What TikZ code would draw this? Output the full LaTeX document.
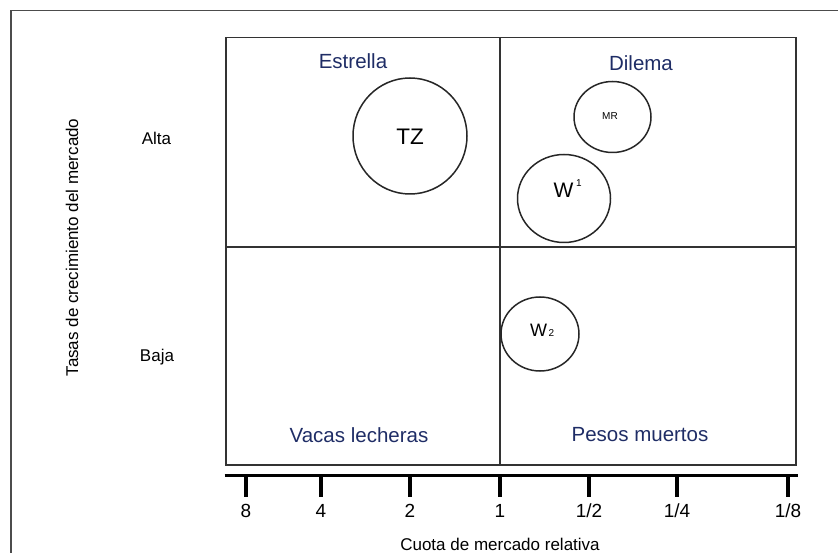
\documentclass[tikz,border=0pt]{standalone}
\usepackage{fontspec}
\setmainfont{Liberation Sans}
\usetikzlibrary{shapes.geometric}

\definecolor{labelblue}{RGB}{31,45,102}

\begin{document}
\begin{tikzpicture}[x=1pt,y=-1pt,
	frame line/.style={draw=black!70,line width=1.2pt},
	grid line/.style={draw=black!80,line width=1.8pt},
	product node/.style={ellipse,draw=black!85,line width=1.5pt,inner sep=0pt},
	product text/.style={anchor=base west,inner sep=0pt},
	quadrant label/.style={text=labelblue,anchor=base,font=\fontsize{20.5}{24}\selectfont},
	axis label/.style={anchor=base,font=\fontsize{17}{20}\selectfont},
	tick label/.style={anchor=base,font=\fontsize{19}{22}\selectfont}
]
	\useasboundingbox (0,0) rectangle (838,553);

	\def \xl {226};
	\def \xr {796};
	\def \yt {37.5};
	\def \yb {465};
	\def \xm {500};
	\def \ym {247};

	% outer frame, cut off by the page
	\draw[frame line] (838,10.5) -- (11,10.5) -- (11,553);

	% the four quadrants
	\draw[grid line] (\xl,\yt) rectangle (\xr,\yb);
	\draw[grid line] (\xm,\yt) -- (\xm,\yb);
	\draw[grid line] (\xl,\ym) -- (\xr,\ym);

	\node[quadrant label] (star) at (353,69) {Estrella};
	\node[quadrant label] (dilemma) at (641,71) {Dilema};
	\node[quadrant label] (cows) at (359,442) {Vacas lecheras};
	\node[quadrant label] (dogs) at (640,441) {Pesos muertos};

	% axis of relative share
	\draw[line width=3pt] (224.5,475.5) -- (798,475.5);
	\foreach \x/\v [count=\i] in {246/8, 321/4, 410/2, 500/1, 589/{1/2}, 677/{1/4}, 788/{1/8}} {
		\draw[line width=3.6pt] (\x,476) -- (\x,497);
		\node[tick label] (tick\i) at (\x,517) {\v};
	}
	\node[axis label] (share) at (500,550) {Cuota de mercado relativa};

	\node[axis label,rotate=90] (growth) at (78,247.5) {Tasas de crecimiento del mercado};
	\node[axis label] (high) at (156.5,145) {Alta};
	\node[axis label] (low) at (157,361) {Baja};

	% products
	\node[product node,minimum width=114pt,minimum height=116pt] (TZ) at (410,136) {};
	\node[product node,minimum width=77pt,minimum height=71pt] (MR) at (612.5,117) {};
	\node[product node,minimum width=93pt,minimum height=88pt] (W1) at (564,198.5) {};
	\node[product node,minimum width=78pt,minimum height=74pt] (W2) at (540,334) {};

	\node[anchor=base,font=\fontsize{22.5}{26}\selectfont] (TZ text) at (410,145) {TZ};
	\node[anchor=base,font=\fontsize{10}{12}\selectfont] (MR text) at (610,119.5) {MR};
	\node[product text,font=\fontsize{21}{24}\selectfont] (W1 text) at (553.5,198)
		{W\hspace{2.5pt}\raisebox{11pt}{\fontsize{10}{10}\selectfont 1}};
	\node[product text,font=\fontsize{18}{21}\selectfont] (W2 text) at (530,337)
		{W\hspace{1.5pt}{\fontsize{10}{10}\selectfont 2}};
\end{tikzpicture}
\end{document}
